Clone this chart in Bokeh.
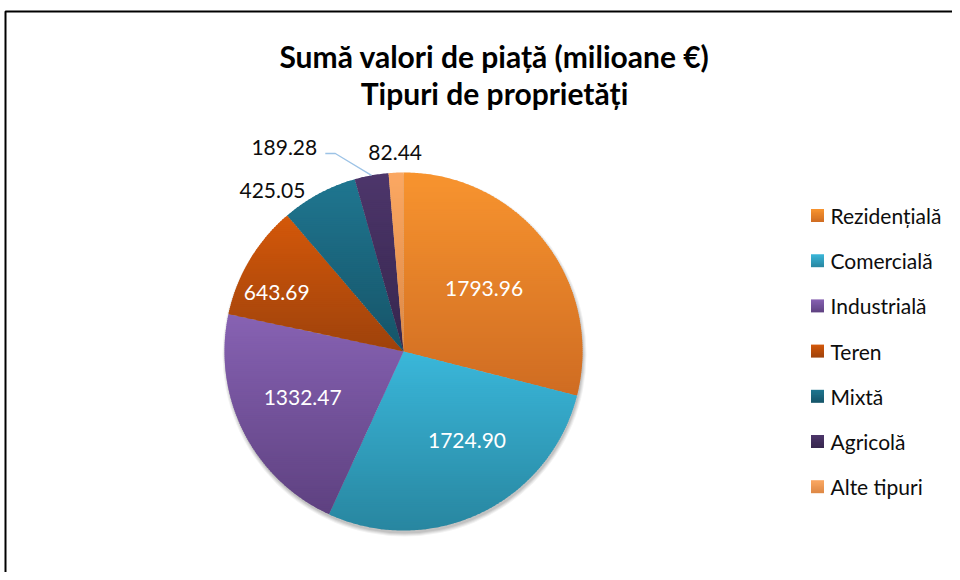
import math
from bokeh.plotting import figure
from bokeh.models import Range1d
from bokeh.core.properties import value
from bokeh.embed import file_html
from bokeh.resources import INLINE

# ---------------- data ----------------
title_lines = ["Sumă valori de piață (milioane €)", "Tipuri de proprietăți"]
categories = ["Rezidențială", "Comercială", "Industrială", "Teren", "Mixtă", "Agricolă", "Alte tipuri"]
values = [1793.96, 1724.90, 1332.47, 643.69, 425.05, 189.28, 82.44]
labels = ["1793.96", "1724.90", "1332.47", "643.69", "425.05", "189.28", "82.44"]

# ---------------- styles ----------------
top_colors = ["#F8942F", "#3AB7DA", "#8762B3", "#D4580A", "#1F7690", "#4D366B", "#FBA863"]
bot_colors = ["#CF6C22", "#2886A0", "#5E4180", "#9E420B", "#165468", "#36264D", "#DD8844"]
label_inside = [True, True, True, True, False, False, False]
label_dangle = [0, -10, 2, -6, -11, -20, 0]             # degrees relative to slice middle
label_rfac = [0.57, 0.61, 0.62, 0.78, 1.16, 1.32, 1.11]  # fraction of radius
FONT = "Lato"

W, H = 952, 572
CX, CY, R = 403, 351, 179

p = figure(width=W, height=H, output_backend="svg", toolbar_location=None,
           x_range=Range1d(0, W), y_range=Range1d(H, 0),
           min_border=0, outline_line_color=None)
p.axis.visible = False
p.grid.visible = False
p.background_fill_color = "white"
p.border_fill_color = "white"


def hex2rgb(h):
    h = h.lstrip("#")
    return tuple(int(h[i:i + 2], 16) for i in (0, 2, 4))


def mix(c1, c2, t):
    a, b = hex2rgb(c1), hex2rgb(c2)
    return "#%02x%02x%02x" % tuple(int(round(a[i] + (b[i] - a[i]) * t)) for i in range(3))


def clip(pts, keep, inter):
    out = []
    n = len(pts)
    for i in range(n):
        cur, prev = pts[i], pts[i - 1]
        if keep(cur):
            if not keep(prev):
                out.append(inter(prev, cur))
            out.append(cur)
        elif keep(prev):
            out.append(inter(prev, cur))
    return out


def ix(yc):
    def f(a, b):
        t = (yc - a[1]) / (b[1] - a[1])
        return (a[0] + t * (b[0] - a[0]), yc)
    return f


def bands(poly, c_top, c_bot, step=2.0):
    ys = [q[1] for q in poly]
    y_min, y_max = min(ys), max(ys)
    n = max(4, int(math.ceil((y_max - y_min) / step)))
    h = (y_max - y_min) / n
    out_x, out_y, out_c = [], [], []
    for k in range(n):
        y0 = y_min + k * h
        y1 = y0 + h + (0.8 if k < n - 1 else 0.0)
        part = clip(poly, lambda q: q[1] >= y0, ix(y0))
        if not part:
            continue
        part = clip(part, lambda q: q[1] <= y1, ix(y1))
        if len(part) < 3:
            continue
        out_x.append([q[0] for q in part])
        out_y.append([q[1] for q in part])
        out_c.append(mix(c_top, c_bot, (k + 0.5) / n))
    return out_x, out_y, out_c


def polar(theta_deg, r):
    t = math.radians(theta_deg)
    return CX + r * math.sin(t), CY - r * math.cos(t)


# ---------------- shadow ----------------
for dr, a in [(3, 0.05), (2, 0.06), (1, 0.07), (0, 0.08)]:
    p.circle(x=[CX + 1], y=[CY + 3], radius=R + dr, fill_color="black", fill_alpha=a,
             line_color=None)

# ---------------- slices ----------------
total = sum(values)
xs_all, ys_all, cs_all = [], [], []
mids = []
start = 0.0
for i, v in enumerate(values):
    span = v / total * 360.0
    end = start + span
    nseg = max(2, int(span * 2))
    poly = [(CX, CY)] + [polar(start + span * j / nseg, R) for j in range(nseg + 1)]
    bx, by, bc = bands(poly, top_colors[i], bot_colors[i])
    xs_all += bx
    ys_all += by
    cs_all += bc
    mids.append(start + span / 2)
    start = end

p.patches(xs=xs_all, ys=ys_all, fill_color=cs_all, line_color=None)

# ---------------- labels ----------------
lx, ly, lt, lc = [], [], [], []
for i in range(len(values)):
    x, y = polar(mids[i] + label_dangle[i], R * label_rfac[i])
    lx.append(x)
    ly.append(y)
    lt.append(labels[i])
    lc.append("white" if label_inside[i] else "#0d0d0d")
p.text(x=lx, y=ly, text=lt, text_color=lc, text_align="center", text_baseline="middle",
       text_font=value(FONT), text_font_size="21px")

# leader line for the Agricolă label
i_ag = 5
ex, ey = polar(mids[i_ag], R)
sx = lx[i_ag] + 41
sy = ly[i_ag] + 6
p.line(x=[sx, sx + 10, ex], y=[sy, sy, ey], line_color="#9DC3E6", line_width=1.3)

# ---------------- title ----------------
p.text(x=[494, 494], y=[55, 92], text=title_lines, text_align="center", text_baseline="middle",
       text_font=value(FONT), text_font_style="bold", text_font_size="30px", text_color="black")

# ---------------- legend ----------------
LX, LY0, LDY, SQ = 817, 215, 45.2, 13
for i, c in enumerate(categories):
    y = LY0 + i * LDY
    sq = [(LX - SQ / 2, y - SQ / 2), (LX + SQ / 2, y - SQ / 2), (LX + SQ / 2, y + SQ / 2), (LX - SQ / 2, y + SQ / 2)]
    bx, by, bc = bands(sq, top_colors[i], bot_colors[i], step=1.5)
    p.patches(xs=bx, ys=by, fill_color=bc, line_color=None)
p.text(x=[830] * len(categories), y=[LY0 + i * LDY for i in range(len(categories))],
       text=categories, text_align="left", text_baseline="middle",
       text_font=value(FONT), text_font_size="21px", text_color="#0d0d0d")

# ---------------- frame ----------------
p.line(x=[5, 5, W], y=[H, 11, 11], line_color="black", line_width=2)

open("out.html", "w").write(file_html(p, INLINE))
